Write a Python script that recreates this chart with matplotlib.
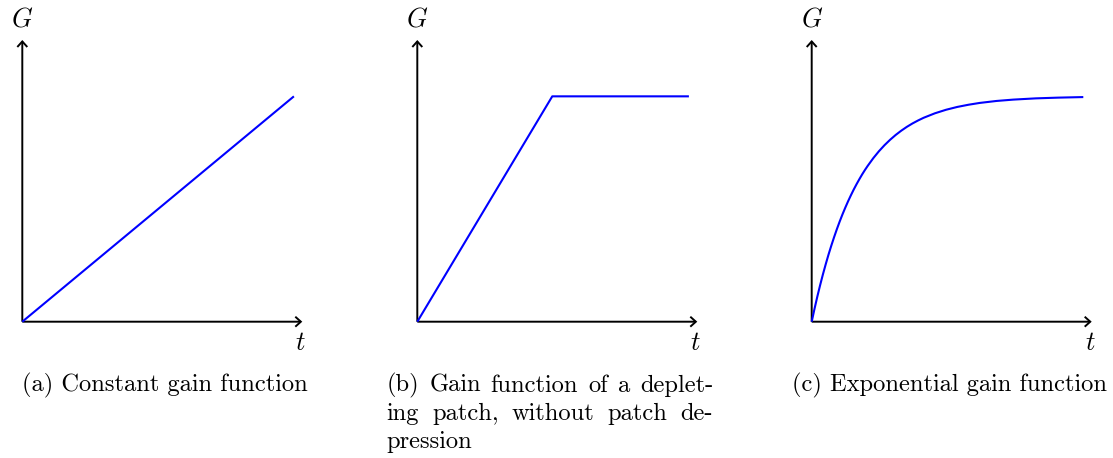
import matplotlib
matplotlib.use("Agg")
import matplotlib.pyplot as plt
from matplotlib.patches import FancyArrowPatch

plt.rcParams["mathtext.fontset"] = "cm"

# Gain curves (t, G) for the three patch types
const_t = [0.0, 4.85]
const_g = [0.0, 4.0]

deplete_t = [0.0, 2.41, 4.85]
deplete_g = [0.0, 4.0, 4.0]

expo_t = [0.0, 0.05, 0.10, 0.15, 0.20, 0.25, 0.30, 0.35, 0.40, 0.45, 0.50,
          0.55, 0.60, 0.65, 0.70, 0.75, 0.80, 0.85, 0.90, 0.95, 1.00, 1.1,
          1.2, 1.3, 1.4, 1.5, 1.6, 1.7, 1.8, 1.9, 2.0, 2.2, 2.4, 2.6, 2.8,
          3.0, 3.3, 3.6, 4.0, 4.4, 4.85]
expo_g = [0.0, 0.228, 0.444, 0.647, 0.839, 1.019, 1.190, 1.350, 1.501, 1.644,
          1.779, 1.906, 2.025, 2.138, 2.244, 2.345, 2.439, 2.528, 2.613, 2.692,
          2.766, 2.903, 3.025, 3.133, 3.229, 3.315, 3.391, 3.459, 3.519, 3.572,
          3.620, 3.699, 3.762, 3.812, 3.851, 3.883, 3.918, 3.942, 3.964, 3.977,
          3.987]

captions = [
    ["(a) Constant gain function"],
    ["(b) Gain function of a deplet-", "ing patch, without patch de-", "pression"],
    ["(c) Exponential gain function"],
]

W, H = 1113, 458
fig = plt.figure(figsize=(W / 100, H / 100), dpi=100)

origins_x = [22.3, 417.3, 811.7]
origin_y = 321.7
x_len = 280.0
y_len = 281.7
AX_MAX = 5.0

series = [(const_t, const_g), (deplete_t, deplete_g), (expo_t, expo_g)]

for ox, (tt, gg) in zip(origins_x, series):
    ax = fig.add_axes([ox / W, (H - origin_y) / H, x_len / W, y_len / H])
    ax.set_xlim(0, AX_MAX)
    ax.set_ylim(0, AX_MAX)
    ax.axis("off")
    for end in [(AX_MAX, 0), (0, AX_MAX)]:
        arr = FancyArrowPatch((0, 0), end,
                              arrowstyle="->,head_length=4,head_width=3.6",
                              lw=1.4, color="black", shrinkA=0, shrinkB=0,
                              mutation_scale=1, clip_on=False,
                              joinstyle="miter", capstyle="butt")
        ax.add_patch(arr)
    ax.plot(tt, gg, color=(0, 0, 1), lw=1.5, clip_on=False,
            solid_capstyle="butt", solid_joinstyle="round", zorder=3)
    ax.text(0, AX_MAX + 0.37, "$G$", fontsize=19, ha="center", va="center")
    ax.text(AX_MAX - 0.03, -0.37, "$t$", fontsize=19, ha="center", va="center")

cap_font = dict(family="cmr10", size=17.6)
fig.text(22.3 / W, 1 - 391.7 / H, captions[0][0], ha="left", va="baseline", **cap_font)
fig.text(791.7 / W, 1 - 391.7 / H, captions[2][0], ha="left", va="baseline", **cap_font)

# Justified caption block for panel (b)
left_px, right_px = 386.7, 713.0
baselines = [391.7, 420.0, 448.0]
renderer = fig.canvas.get_renderer()
for i, (line, base) in enumerate(zip(captions[1], baselines)):
    y = 1 - base / H
    words = line.split(" ")
    if i == len(captions[1]) - 1 or len(words) == 1:
        fig.text(left_px / W, y, line, ha="left", va="baseline", **cap_font)
        continue
    arts = [fig.text(0, y, w_, ha="left", va="baseline", **cap_font) for w_ in words]
    widths = [a.get_window_extent(renderer).width for a in arts]
    gap = (right_px - left_px - sum(widths)) / (len(words) - 1)
    x = left_px
    for a, wd in zip(arts, widths):
        a.set_x(x / W)
        x += wd + gap

fig.savefig("out.png", dpi=100, facecolor="white")
